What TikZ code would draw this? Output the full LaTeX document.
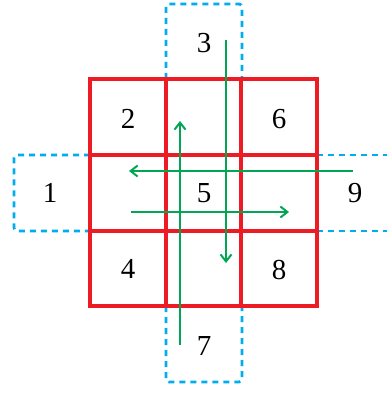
\documentclass[tikz,border=0pt]{standalone}
\usepackage{fontspec}
\setmainfont{Liberation Serif}
\usetikzlibrary{arrows.meta}
\definecolor{gridred}{HTML}{ED1C24}
\definecolor{dashblue}{HTML}{00AEEF}
\definecolor{arrgreen}{HTML}{00A651}
\begin{document}
\begin{tikzpicture}[x=1pt,y=-1pt,
  redline/.style={draw=gridred,line width=3.2pt},
  blueline/.style={draw=dashblue,line width=2.8pt,dash pattern=on 6pt off 5pt,rounded corners=3pt},
  arrline/.style={draw=arrgreen,line width=2pt,-{Straight Barb[length=7pt,width=11pt,line width=2pt]}},
  lab/.style={font=\fontsize{29}{29}\selectfont,inner sep=0pt}]
\useasboundingbox (0,0) rectangle (387,393);
% dashed outer boxes
\draw[blueline] (166,79) -- (166,4) -- (242,4) -- (242,79);
\draw[blueline] (90,155) -- (14,155) -- (14,231) -- (90,231);
\draw[blueline] (317,155) -- (395,155);
\draw[blueline] (317,231) -- (395,231);
\draw[blueline] (166,306) -- (166,382) -- (242,382) -- (242,306);
% red grid
\draw[redline] (90,79) rectangle (317,306);
\draw[redline] (166,79) -- (166,306);
\draw[redline] (241,79) -- (241,306);
\draw[redline] (90,155) -- (317,155);
\draw[redline] (90,231) -- (317,231);
% labels
\node[lab] (n3) at (204,43) {3};
\node[lab] (n2) at (128,119) {2};
\node[lab] (n6) at (279,119) {6};
\node[lab] (n1) at (50,193) {1};
\node[lab] (n5) at (204,193) {5};
\node[lab] (n9) at (355,193) {9};
\node[lab] (n4) at (128,269) {4};
\node[lab] (n8) at (279,270) {8};
\node[lab] (n7) at (204,346) {7};
% arrow end points
\coordinate (a1s) at (226,40);
\coordinate (a1e) at (226,263);
\coordinate (a2s) at (180,345);
\coordinate (a2e) at (180,121);
\coordinate (a3s) at (353,171);
\coordinate (a3e) at (129,171);
\coordinate (a4s) at (131,212);
\coordinate (a4e) at (289,212);
\draw[arrline] (a1s) -- (a1e);
\draw[arrline] (a2s) -- (a2e);
\draw[arrline] (a3s) -- (a3e);
\draw[arrline] (a4s) -- (a4e);
\end{tikzpicture}
\end{document}
